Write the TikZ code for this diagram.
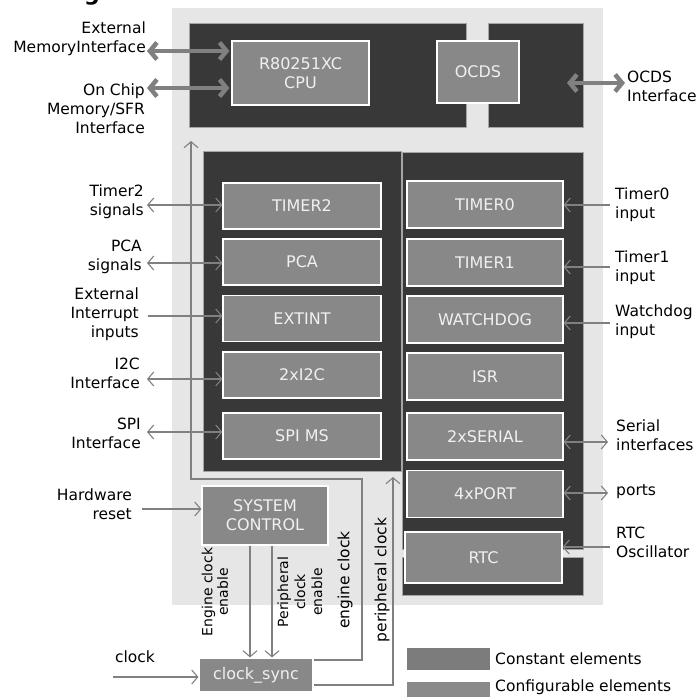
\documentclass[tikz,border=0pt]{standalone}
\usepackage{fontspec}
\setmainfont{DejaVu Sans}
\usetikzlibrary{arrows.meta}
\definecolor{bgl}{HTML}{E6E6E6}
\definecolor{dk}{HTML}{383838}
\definecolor{bx}{HTML}{888888}
\definecolor{ln}{HTML}{808080}
\definecolor{legc}{HTML}{7C7C7C}
\definecolor{legv}{HTML}{8A8A8A}
\tikzset{
  panel/.style={fill=dk, draw=white!55!dk, line width=0.7pt},
  blk/.style={draw=white, fill=bx, line width=1.1pt, text=white!94!black,
    font=\fontsize{16}{19}\selectfont, align=center, inner sep=0pt},
  lb/.style={blk, minimum width=158pt, minimum height=46pt},
  rb/.style={blk, minimum width=156pt, minimum height=47pt},
  lbl/.style={font=\fontsize{15.5}{19}\selectfont, inner sep=0pt},
  lblr/.style={lbl, anchor=east, align=right},
  lbll/.style={lbl, anchor=west, align=left},
  rot/.style={lbl, rotate=90, align=center},
  wire/.style={draw=ln, line width=1.1pt, >={Straight Barb[length=6pt,width=14pt]}},
  fat/.style={draw=ln, line width=4.5pt, >={Straight Barb[length=7pt,width=17pt]}},
  legbox/.style={minimum width=83pt, minimum height=22pt, inner sep=0pt}
}
\begin{document}
\begin{tikzpicture}[x=1pt,y=-1pt]
\useasboundingbox (0,0) rectangle (698,696);
\fill[white] (0,0) rectangle (698,696);
\node[font=\bfseries\fontsize{22}{22}\selectfont, anchor=base, inner sep=0pt] (ttl) at (92,1) {g};
% background and panels
\fill[bgl] (172,8) rectangle (603,605);
\draw[panel] (189,23) rectangle (466,127);
\draw[panel] (488,23) rectangle (583,127);
\draw[panel] (203,151) rectangle (401,471);
\draw[panel] (402,152) rectangle (583,549);
\draw[panel] (402,557) rectangle (583,595);
% top blocks
\node[blk, minimum width=137pt, minimum height=64pt] (cpu) at (300.5,73) {R80251XC\\CPU};
\node[blk, minimum width=82pt, minimum height=62pt] (ocds) at (478,72) {OCDS};
% left blocks
\node[lb] (t2) at (302,206) {TIMER2};
\node[lb] (pca) at (302,262) {PCA};
\node[lb] (ext) at (302,318.5) {EXTINT};
\node[lb] (i2c) at (302,375) {2xI2C};
\node[lb] (spi) at (302,436) {SPI MS};
% right blocks
\node[rb] (t0) at (485,204.5) {TIMER0};
\node[rb] (t1) at (485,262.5) {TIMER1};
\node[rb] (wd) at (485,319.5) {WATCHDOG};
\node[rb] (isr) at (485,376.5) {ISR};
\node[rb] (ser) at (485,436.5) {2xSERIAL};
\node[rb] (port) at (485,494) {4xPORT};
\node[blk, minimum width=157pt, minimum height=51pt] (rtc) at (483.5,557.5) {RTC};
% system
\node[blk, minimum width=126pt, minimum height=59pt] (sc) at (265,515.5) {SYSTEM\\CONTROL};
\node[blk, minimum width=114pt, minimum height=34pt] (cs) at (256,675) {clock\_sync};
% legend
\node[legbox, fill=legc] (lc) at (448.5,659) {};
\node[legbox, fill=legv] (lv) at (448.5,693) {};
\node[lbll] (lct) at (495,659) {Constant elements};
\node[lbll] (lvt) at (495,687) {Configurable elements};
% left labels
\node[lblr] (l1) at (146,39) {External\\MemoryInterface};
\node[lblr] (l2) at (145,109) {On Chip\\Memory/SFR\\Interface};
\node[lblr] (l3) at (144,202) {Timer2\\signals};
\node[lblr] (l4) at (142,257) {PCA\\signals};
\node[lblr] (l5) at (139,314) {External\\Interrupt\\inputs};
\node[lblr] (l6) at (140,373) {I2C\\Interface};
\node[lblr] (l7) at (141,433) {SPI\\Interface};
\node[lblr] (l8) at (132,504) {Hardware\\reset};
\node[lbl] (l9) at (135,657) {clock};
% right labels
\node[lbll] (r0) at (627,86) {OCDS\\Interface};
\node[lbll] (r1) at (615,205) {Timer0\\input};
\node[lbll] (r2) at (615,268) {Timer1\\input};
\node[lbll] (r3) at (615,322) {Watchdog\\input};
\node[lbll] (r4) at (616,435) {Serial\\interfaces};
\node[lbll] (r5) at (616,492) {ports};
\node[lbll] (r6) at (616,542) {RTC\\Oscillator};
% rotated labels
\node[rot, font=\fontsize{14}{15.5}\selectfont] (ece) at (215,592) {Engine clock\\enable};
\node[rot, font=\fontsize{14}{17}\selectfont] (pce) at (300,592) {Peripheral\\clock\\enable};
\node[rot] (ecl) at (345,580) {engine clock};
\node[rot] (pcl) at (382,580) {peripheral clock};
% thick arrows
\coordinate (em) at (147,51);
\coordinate (oc) at (147,88);
\draw[fat, <->, shorten >=2pt] (em) -- (em -| cpu.west);
\draw[fat, <->, shorten >=2pt] (oc) -- (oc -| cpu.west);
\coordinate (oi1) at (567,83);
\coordinate (oi2) at (625,83);
\draw[fat, <->] (oi1) -- (oi2);
% left thin arrows
\coordinate (a1) at (147,205);
\coordinate (a2) at (147,263);
\coordinate (a3) at (148,316);
\coordinate (a4) at (147,379);
\coordinate (a5) at (147,432);
\draw[wire, <->] (a1) -- (a1 -| t2.west);
\draw[wire, <->] (a2) -- (a2 -| pca.west);
\draw[wire, ->] (a3) -- (a3 -| ext.west);
\draw[wire, <->] (a4) -- (a4 -| i2c.west);
\draw[wire, <->] (a5) -- (a5 -| spi.west);
% right thin arrows
\coordinate (b1) at (610,205);
\coordinate (b2) at (610,267);
\coordinate (b3) at (610,323);
\coordinate (b4) at (608,442);
\coordinate (b5) at (608,493);
\coordinate (b6) at (610,547);
\draw[wire, ->] (b1) -- (b1 -| t0.east);
\draw[wire, ->] (b2) -- (b2 -| t1.east);
\draw[wire, ->] (b3) -- (b3 -| wd.east);
\draw[wire, <->] (b4) -- (b4 -| ser.east);
\draw[wire, <->] (b5) -- (b5 -| port.east);
\draw[wire, ->] (b6) -- (b6 -| rtc.east);
% reset and clock
\coordinate (hr) at (142,509);
\coordinate (ck) at (113,677);
\draw[wire, ->] (hr) -- (hr -| sc.west);
\draw[wire, ->] (ck) -- (ck -| cs.west);
% enables
\coordinate (e1) at (250,0);
\coordinate (e2) at (272,0);
\draw[wire, ->] (e1 |- sc.south) -- (e1 |- cs.north);
\draw[wire, ->] (e2 |- sc.south) -- (e2 |- cs.north);
% engine clock and peripheral clock
\coordinate (ec1) at (362,479);
\coordinate (ec2) at (191,141);
\coordinate (pc1) at (393,477);
\draw[wire, ->] ([yshift=15pt]cs.east) -| (ec1) -| (ec2);
\draw[wire, ->] ([yshift=-10pt]cs.east) -| (pc1);
\end{tikzpicture}
\end{document}
